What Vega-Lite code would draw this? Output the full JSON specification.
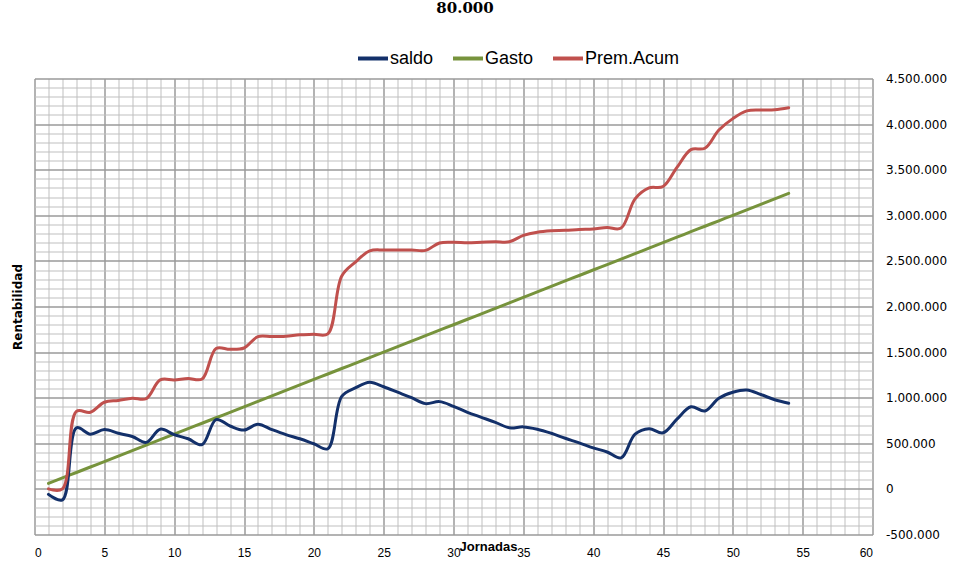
{
  "$schema": "https://vega.github.io/schema/vega-lite/v6.json",
  "width": 838,
  "height": 456,
  "autosize": "none",
  "padding": {"left": 34.5, "top": 78.5, "right": 83, "bottom": 51},
  "background": "white",
  "title": {
    "text": "80.000",
    "font": "DejaVu Serif",
    "fontSize": 15,
    "fontWeight": "bold",
    "color": "#000000",
    "anchor": "middle",
    "frame": "group",
    "dx": 11.5,
    "offset": 26
  },
  "data": {
    "values": [
      {"jornada": 1, "saldo": -60000, "Gasto": 60000, "Prem": 0},
      {"jornada": 2, "saldo": -120000, "Gasto": 120000, "Prem": 0},
      {"jornada": 3, "saldo": 670000, "Gasto": 180000, "Prem": 850000},
      {"jornada": 4, "saldo": 600000, "Gasto": 240000, "Prem": 840000},
      {"jornada": 5, "saldo": 650000, "Gasto": 300000, "Prem": 950000},
      {"jornada": 6, "saldo": 610000, "Gasto": 360000, "Prem": 970000},
      {"jornada": 7, "saldo": 575000, "Gasto": 420000, "Prem": 995000},
      {"jornada": 8, "saldo": 510000, "Gasto": 480000, "Prem": 990000},
      {"jornada": 9, "saldo": 655000, "Gasto": 540000, "Prem": 1195000},
      {"jornada": 10, "saldo": 595000, "Gasto": 600000, "Prem": 1195000},
      {"jornada": 11, "saldo": 550000, "Gasto": 660000, "Prem": 1210000},
      {"jornada": 12, "saldo": 485000, "Gasto": 720000, "Prem": 1205000},
      {"jornada": 13, "saldo": 760000, "Gasto": 780000, "Prem": 1540000},
      {"jornada": 14, "saldo": 690000, "Gasto": 840000, "Prem": 1530000},
      {"jornada": 15, "saldo": 645000, "Gasto": 900000, "Prem": 1545000},
      {"jornada": 16, "saldo": 710000, "Gasto": 960000, "Prem": 1670000},
      {"jornada": 17, "saldo": 650000, "Gasto": 1020000, "Prem": 1670000},
      {"jornada": 18, "saldo": 595000, "Gasto": 1080000, "Prem": 1675000},
      {"jornada": 19, "saldo": 550000, "Gasto": 1140000, "Prem": 1690000},
      {"jornada": 20, "saldo": 495000, "Gasto": 1200000, "Prem": 1695000},
      {"jornada": 21, "saldo": 440000, "Gasto": 1260000, "Prem": 1700000},
      {"jornada": 22, "saldo": 1015000, "Gasto": 1320000, "Prem": 2335000},
      {"jornada": 23, "saldo": 1110000, "Gasto": 1380000, "Prem": 2490000},
      {"jornada": 24, "saldo": 1170000, "Gasto": 1440000, "Prem": 2610000},
      {"jornada": 25, "saldo": 1120000, "Gasto": 1500000, "Prem": 2620000},
      {"jornada": 26, "saldo": 1060000, "Gasto": 1560000, "Prem": 2620000},
      {"jornada": 27, "saldo": 1000000, "Gasto": 1620000, "Prem": 2620000},
      {"jornada": 28, "saldo": 935000, "Gasto": 1680000, "Prem": 2615000},
      {"jornada": 29, "saldo": 957000, "Gasto": 1740000, "Prem": 2697000},
      {"jornada": 30, "saldo": 905000, "Gasto": 1800000, "Prem": 2705000},
      {"jornada": 31, "saldo": 840000, "Gasto": 1860000, "Prem": 2700000},
      {"jornada": 32, "saldo": 785000, "Gasto": 1920000, "Prem": 2705000},
      {"jornada": 33, "saldo": 730000, "Gasto": 1980000, "Prem": 2710000},
      {"jornada": 34, "saldo": 670000, "Gasto": 2040000, "Prem": 2710000},
      {"jornada": 35, "saldo": 680000, "Gasto": 2100000, "Prem": 2780000},
      {"jornada": 36, "saldo": 655000, "Gasto": 2160000, "Prem": 2815000},
      {"jornada": 37, "saldo": 610000, "Gasto": 2220000, "Prem": 2830000},
      {"jornada": 38, "saldo": 555000, "Gasto": 2280000, "Prem": 2835000},
      {"jornada": 39, "saldo": 505000, "Gasto": 2340000, "Prem": 2845000},
      {"jornada": 40, "saldo": 450000, "Gasto": 2400000, "Prem": 2850000},
      {"jornada": 41, "saldo": 405000, "Gasto": 2460000, "Prem": 2865000},
      {"jornada": 42, "saldo": 340000, "Gasto": 2520000, "Prem": 2860000},
      {"jornada": 43, "saldo": 600000, "Gasto": 2580000, "Prem": 3180000},
      {"jornada": 44, "saldo": 660000, "Gasto": 2640000, "Prem": 3300000},
      {"jornada": 45, "saldo": 615000, "Gasto": 2700000, "Prem": 3315000},
      {"jornada": 46, "saldo": 765000, "Gasto": 2760000, "Prem": 3525000},
      {"jornada": 47, "saldo": 900000, "Gasto": 2820000, "Prem": 3720000},
      {"jornada": 48, "saldo": 855000, "Gasto": 2880000, "Prem": 3735000},
      {"jornada": 49, "saldo": 995000, "Gasto": 2940000, "Prem": 3935000},
      {"jornada": 50, "saldo": 1060000, "Gasto": 3000000, "Prem": 4060000},
      {"jornada": 51, "saldo": 1085000, "Gasto": 3060000, "Prem": 4145000},
      {"jornada": 52, "saldo": 1035000, "Gasto": 3120000, "Prem": 4155000},
      {"jornada": 53, "saldo": 978000, "Gasto": 3180000, "Prem": 4158000},
      {"jornada": 54, "saldo": 940000, "Gasto": 3240000, "Prem": 4180000}
    ]
  },
  "transform": [
    {"fold": ["saldo", "Gasto", "Prem"], "as": ["serie", "valor"]}
  ],
  "layer": [
    {
      "transform": [{"filter": "datum.serie == 'Gasto'"}],
      "mark": {"type": "line", "interpolate": "catmull-rom", "strokeWidth": 3, "strokeCap": "round"},
      "encoding": {
        "x": {
          "field": "jornada", "type": "quantitative",
          "scale": {"domain": [0, 60], "nice": false, "zero": false},
          "axis": {
            "orient": "top", "title": null, "labels": false, "ticks": false, "domain": false,
            "grid": true, "gridColor": "#BFBFBF", "gridWidth": 1, "gridOpacity": 1,
            "values": [0,1,2,3,4,5,6,7,8,9,10,11,12,13,14,15,16,17,18,19,20,21,22,23,24,25,26,27,28,29,30,31,32,33,34,35,36,37,38,39,40,41,42,43,44,45,46,47,48,49,50,51,52,53,54,55,56,57,58,59,60]
          }
        },
        "y": {
          "field": "valor", "type": "quantitative",
          "scale": {"domain": [-500000, 4500000], "nice": false, "zero": false},
          "axis": {
            "orient": "left", "title": "Rentabilidad", "labels": false, "ticks": false, "domain": false,
            "titleFont": "DejaVu Sans", "titleFontSize": 12, "titleFontWeight": "bold", "titleColor": "#000000",
            "titlePadding": 10,
            "grid": true, "gridColor": "#BFBFBF", "gridWidth": 1, "gridOpacity": 1,
            "values": [-500000,-400000,-300000,-200000,-100000,0,100000,200000,300000,400000,500000,600000,700000,800000,900000,1000000,1100000,1200000,1300000,1400000,1500000,1600000,1700000,1800000,1900000,2000000,2100000,2200000,2300000,2400000,2500000,2600000,2700000,2800000,2900000,3000000,3100000,3200000,3300000,3400000,3500000,3600000,3700000,3800000,3900000,4000000,4100000,4200000,4300000,4400000,4500000]
          }
        },
        "color": {
          "field": "serie", "type": "nominal",
          "scale": {"domain": ["saldo", "Gasto", "Prem"], "range": ["#13306A", "#77933C", "#C0504D"]},
          "legend": {
            "orient": "none", "legendX": 321.5, "legendY": -37, "direction": "horizontal",
            "title": null, "symbolType": "stroke", "symbolSize": 900, "symbolStrokeWidth": 4,
            "labelFont": "Liberation Sans", "labelFontSize": 18, "labelColor": "#000000",
            "labelOffset": 0, "columnPadding": 11, "padding": 0,
            "labelExpr": "datum.label == 'Prem' ? 'Prem.Acum' : datum.label"
          }
        }
      }
    },
    {
      "transform": [{"filter": "datum.serie != 'Gasto'"}],
      "mark": {"type": "line", "interpolate": "catmull-rom", "strokeWidth": 3, "strokeCap": "round"},
      "encoding": {
        "x": {
          "field": "jornada", "type": "quantitative",
          "axis": {
            "orient": "bottom", "title": "Jornadas", "ticks": false, "domain": false,
            "titleFont": "Liberation Sans", "titleFontSize": 13, "titleFontWeight": "bold", "titleColor": "#000000",
            "titleX": 453.5, "titleY": 15.5, "titleBaseline": "alphabetic", "titleAnchor": "middle",
            "labelFont": "Liberation Sans", "labelFontSize": 12, "labelColor": "#000000", "labelPadding": 13,
            "grid": true, "gridColor": "#878787", "gridWidth": 1, "gridOpacity": 1,
            "values": [0,5,10,15,20,25,30,35,40,45,50,55,60]
          }
        },
        "y": {
          "field": "valor", "type": "quantitative",
          "axis": {
            "orient": "right", "title": null, "ticks": false, "domain": false, "format": ",d",
            "labelFont": "DejaVu Sans", "labelFontSize": 12, "labelColor": "#000000", "labelPadding": 13,
            "grid": true, "gridColor": "#878787", "gridWidth": 1, "gridOpacity": 1,
            "values": [-500000,0,500000,1000000,1500000,2000000,2500000,3000000,3500000,4000000,4500000]
          }
        },
        "color": {"field": "serie", "type": "nominal"}
      }
    }
  ],
  "resolve": {"axis": {"x": "independent", "y": "independent"}},
  "config": {
    "view": {"stroke": null},
    "locale": {"number": {"decimal": ",", "thousands": ".", "grouping": [3], "currency": ["", " €"], "minus": "-"}}
  }
}
